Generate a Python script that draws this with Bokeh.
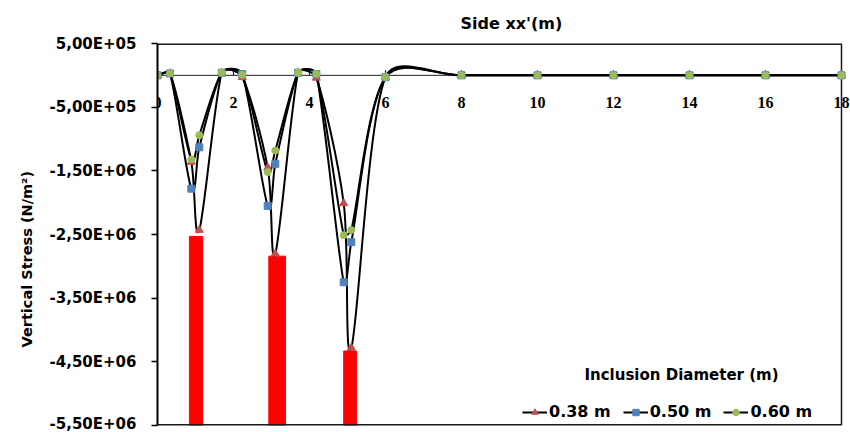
import numpy as np
from bokeh.plotting import figure
from bokeh.models import (Range1d, FixedTicker, Label, LabelSet, ColumnDataSource,
                          Legend, LegendItem, Title)
from bokeh.embed import file_html
from bokeh.resources import INLINE

# ---------------- data ----------------
x_pos = [0, 0.33, 0.89, 1.1, 1.69, 2.23, 2.9, 3.1, 3.7, 4.18, 4.9, 5.1, 6, 8, 10, 12, 14, 16, 18]
s038 = [0, 3.0e4, -1.36e6, -2.43e6, 4.0e4, -3.0e4, -1.45e6, -2.80e6, 4.0e4, -4.0e4,
        -2.01e6, -4.28e6, -3.0e4, 0, 0, 0, 0, 0, 0]
s050 = [0, 3.0e4, -1.78e6, -1.13e6, 4.0e4, 2.0e4, -2.05e6, -1.39e6, 4.0e4, 2.0e4,
        -3.25e6, -2.62e6, -3.0e4, 0, 0, 0, 0, 0, 0]
s060 = [0, 3.0e4, -1.32e6, -0.94e6, 4.0e4, 1.0e4, -1.52e6, -1.18e6, 4.0e4, 2.0e4,
        -2.51e6, -2.43e6, -3.0e4, 0, 0, 0, 0, 0, 0]
series_labels = ["0.38 m", "0.50 m", "0.60 m"]

incl_left = [0.84, 2.93, 4.90]
incl_right = [1.19, 3.37, 5.24]
incl_top = [-2.53e6, -2.84e6, -4.33e6]

x_ticks = [0, 2, 4, 6, 8, 10, 12, 14, 16, 18]
x_tick_labels = ["0", "2", "4", "6", "8", "10", "12", "14", "16", "18"]
y_ticks = [5e5, -5e5, -1.5e6, -2.5e6, -3.5e6, -4.5e6, -5.5e6]
y_tick_labels = ["5,00E+05", "-5,00E+05", "-1,50E+06", "-2,50E+06", "-3,50E+06",
                 "-4,50E+06", "-5,50E+06"]

x_title = "Side xx'(m)"
y_title = "Vertical Stress (N/m²)"
legend_title = "Inclusion Diameter (m)"

# ---------------- layout ----------------
W, H = 850, 432
FL, FT, FB = 157, 43, 7
PLOT_RIGHT = 841          # pixel where x = 18 sits (box edge)
XMIN, XLAST = 0, 18
YMIN, YMAX = -5.5e6, 5e5
SX = (PLOT_RIGHT - FL) / (XLAST - XMIN)
XMAX = XLAST + (W - PLOT_RIGHT) / SX   # frame runs to the canvas edge so "18" is not cut
SY = (H - FT - FB) / (YMAX - YMIN)

FONT = "DejaVu Sans"

p = figure(width=W, height=H, output_backend="svg", toolbar_location=None,
           x_range=Range1d(XMIN, XMAX), y_range=Range1d(YMIN, YMAX),
           x_axis_location=None, min_border_left=FL, min_border_right=0,
           min_border_top=FT, min_border_bottom=FB)
p.xgrid.visible = False
p.ygrid.visible = False
p.background_fill_color = "white"
p.border_fill_color = "white"
p.outline_line_color = None

ax = p.yaxis[0]
ax.ticker = FixedTicker(ticks=y_ticks)
ax.major_label_overrides = {t: s for t, s in zip(y_ticks, y_tick_labels)}
ax.major_label_text_font = FONT
ax.major_label_text_font_style = "bold"
ax.major_label_text_font_size = "15px"
ax.major_label_text_color = "black"
ax.major_label_standoff = 15
ax.axis_line_width = 2
ax.axis_line_color = "black"
ax.major_tick_out = 6
ax.major_tick_in = 0
ax.major_tick_line_width = 1.5
ax.minor_tick_out = 0
ax.minor_tick_in = 0

# titles
p.add_layout(Title(text=x_title, align="left", offset=303, standoff=21,
                   text_font=FONT, text_font_style="bold", text_font_size="16px",
                   text_color="black"), "above")
p.add_layout(Title(text=y_title, align="left", offset=78, standoff=24,
                   text_font=FONT, text_font_style="bold", text_font_size="14.5px",
                   text_color="black"), "left")

# inclusions (red columns)
p.quad(left=incl_left, right=incl_right, top=incl_top, bottom=YMIN,
       fill_color="#FF0000", line_color="#FF0000")

# plot box (top, bottom, right)
p.segment(x0=[XMIN, XMIN], y0=[YMAX, YMIN], x1=[XLAST, XLAST], y1=[YMAX, YMIN],
          line_color="#1a1a1a", line_width=3)
p.segment(x0=[XLAST], y0=[YMIN], x1=[XLAST], y1=[YMAX], line_color="#1a1a1a", line_width=1.5)

# zero line and its ticks
p.segment(x0=[XMIN], y0=[0], x1=[XLAST], y1=[0], line_color="#222222", line_width=1)
p.ray(x=x_ticks, y=[0] * len(x_ticks), length=5, length_units="screen",
      angle=np.pi / 2, line_color="#222222", line_width=1.2)
lab_src = ColumnDataSource(dict(x=x_ticks, y=[0] * len(x_ticks), t=x_tick_labels))
p.add_layout(LabelSet(x="x", y="y", text="t", source=lab_src, y_offset=-27,
                      text_align="center", text_baseline="middle",
                      text_font=FONT, text_font_style="bold", text_font_size="16px",
                      text_color="black", level="underlay"))


def smooth(xs, ys):
    P = np.column_stack([np.asarray(xs, float) * SX, np.asarray(ys, float) * SY])
    n = len(P)
    out = {k: [] for k in ("x0", "y0", "x1", "y1", "cx0", "cy0", "cx1", "cy1")}
    for i in range(n - 1):
        p0 = P[max(i - 1, 0)]
        p1 = P[i]
        p2 = P[i + 1]
        p3 = P[min(i + 2, n - 1)]
        d12 = np.hypot(*(p2 - p1))
        a = (p2 - p0) / 6.0
        b = (p3 - p1) / 6.0
        la, lb = np.hypot(*a), np.hypot(*b)
        cap = d12 / 3.0
        if la > cap:
            a = a * cap / la
        if lb > cap:
            b = b * cap / lb
        c1 = p1 + a
        c2 = p2 - b
        out["x0"].append(p1[0] / SX); out["y0"].append(p1[1] / SY)
        out["x1"].append(p2[0] / SX); out["y1"].append(p2[1] / SY)
        out["cx0"].append(c1[0] / SX); out["cy0"].append(c1[1] / SY)
        out["cx1"].append(c2[0] / SX); out["cy1"].append(c2[1] / SY)
    return out


series = [s038, s050, s060]
markers = ["triangle", "square", "circle"]
colors = ["#C0504D", "#4F81BD", "#9BBB59"]
sizes = [8, 7, 7]

curves = []
for ys in series:
    seg = smooth(x_pos, ys)
    curves.append(p.bezier(source=ColumnDataSource(seg), x0="x0", y0="y0", x1="x1", y1="y1",
                           cx0="cx0", cy0="cy0", cx1="cx1", cy1="cy1",
                           line_color="black", line_width=2))

items = []
for ys, mk, c, sz, lab, cr in zip(series, markers, colors, sizes, series_labels, curves):
    sc = p.scatter(x=x_pos, y=ys, marker=mk, size=sz, fill_color=c, line_color=c)
    items.append(LegendItem(label=lab, renderers=[cr, sc]))

legend = Legend(items=items, orientation="horizontal", location=(365, 4),
                border_line_alpha=0, background_fill_alpha=0,
                label_text_font=FONT, label_text_font_style="bold",
                label_text_font_size="16px", label_text_color="black",
                glyph_width=25, glyph_height=16, label_standoff=2, spacing=12,
                padding=0, margin=0)
p.add_layout(legend)

p.add_layout(Label(x=(681 - FL) / SX, y=-(374.5 - 75) / SY, text=legend_title,
                   text_align="center", text_baseline="middle",
                   text_font=FONT, text_font_style="bold", text_font_size="15px",
                   text_color="black"))

open("out.html", "w").write(file_html(p, INLINE))
